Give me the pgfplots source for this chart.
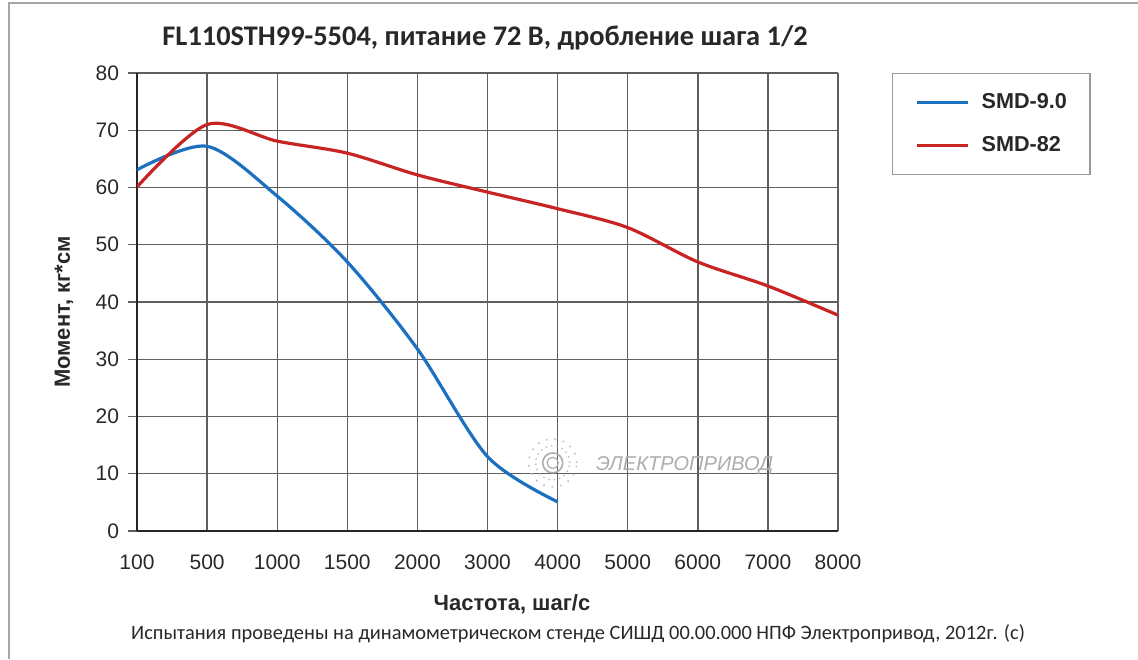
\documentclass[border=0pt]{standalone}
\usepackage{fontspec}
\setmainfont{Liberation Sans}
\newfontfamily\carlito{Carlito}
\usepackage{pgfplots}
\pgfplotsset{compat=1.18}
\definecolor{cblue}{RGB}{28,112,192}
\definecolor{cred}{RGB}{200,36,36}
\definecolor{gridc}{RGB}{95,95,95}
\definecolor{txt}{RGB}{40,40,40}
\begin{document}
\begin{tikzpicture}[x=0.5pt,y=0.5pt]
\path[use as bounding box] (0,0) rectangle (1138,659);
\draw[gray!70, line width=1pt] (9,0) -- (9,656) -- (1138,656);
\node[font=\carlito\bfseries\fontsize{14.2}{17}\selectfont, text=txt] at (485,621) {FL110STH99-5504, питание 72 В, дробление шага 1/2};
\node[font=\carlito\fontsize{10.2}{12}\selectfont, text=txt] at (578,25) {Испытания проведены на динамометрическом стенде СИШД 00.00.000 НПФ Электропривод, 2012г. (с)};
\node[font=\bfseries\fontsize{11}{13}\selectfont, text=txt] at (512,55) {Частота, шаг/с};
\node[font=\bfseries\fontsize{11}{13}\selectfont, text=txt, rotate=90] at (64,347) {Момент, кг*см};
\begin{axis}[
  at={(68.5pt,64pt)}, anchor=south west,
  scale only axis, width=350.5pt, height=229pt,
  xmin=0, xmax=10, ymin=0, ymax=80,
  xtick={0,...,10},
  xticklabels={100,500,1000,1500,2000,3000,4000,5000,6000,7000,8000},
  ytick={0,10,...,80},
  axis x line=bottom, axis y line=left,
  axis line style={-, black!85, line width=1.1pt},
  grid=major, grid style={gridc, line width=0.7pt},
  tick style={gridc, line width=0.7pt},
  tick align=outside,
  xtick style={draw=none},
  major tick length=4.5pt,
  /pgf/number format/assume math mode=true,
  ticklabel style={font=\fontsize{10.5}{12}\selectfont, text=txt},
  xticklabel style={yshift=-4pt},
  yticklabel style={xshift=-1pt},
  legend style={at={(1.077,1)}, anchor=north west, draw=gray!80, line width=0.7pt,
    font=\bfseries\fontsize{10.8}{12}\selectfont, text=txt,
    inner xsep=11.5pt, inner ysep=9.5pt, row sep=11.5pt, column sep=6pt,
    nodes={inner sep=0pt, text height=8pt, text depth=2pt}},
  legend cell align=left,
  legend image code/.code={\draw[#1, line width=1.5pt] (0pt,0pt) -- (25.5pt,0pt);},
]
\addplot[cblue, line width=1.6pt, smooth, tension=0.5] coordinates {
  (0,63.1) (1,67.2) (2,58.5) (3,47.0) (4,31.8) (5,13.0) (6,5.1)
};
\addlegendentry{SMD-9.0}
\addplot[cred, line width=1.6pt, smooth, tension=0.5] coordinates {
  (0,60.1) (1,71.0) (2,68.1) (3,66.0) (4,62.2) (5,59.2) (6,56.3) (7,53.0) (8,47.0) (9,42.8) (10,37.7)
};
\addlegendentry{SMD-82\hspace*{1.5pt}}
\node[font=\itshape\fontsize{10}{12}\selectfont, text=gray!65, anchor=west] at (axis cs:6.45,11.4) {ЭЛЕКТРОПРИВОД};
\draw[gray!65, line width=0.8pt] (axis cs:5.93,11.9) circle[radius=5pt];
\draw[gray!65, line width=0.6pt] (axis cs:5.93,11.9) circle[radius=2.8pt];
\draw[gray!55, line width=0.7pt, dotted] (axis cs:5.93,11.9) circle[radius=8.5pt];
\draw[gray!50, line width=0.8pt, dash pattern=on 0.8pt off 3.5pt] (axis cs:5.93,11.9) circle[radius=12pt];
\end{axis}
\end{tikzpicture}
\end{document}
